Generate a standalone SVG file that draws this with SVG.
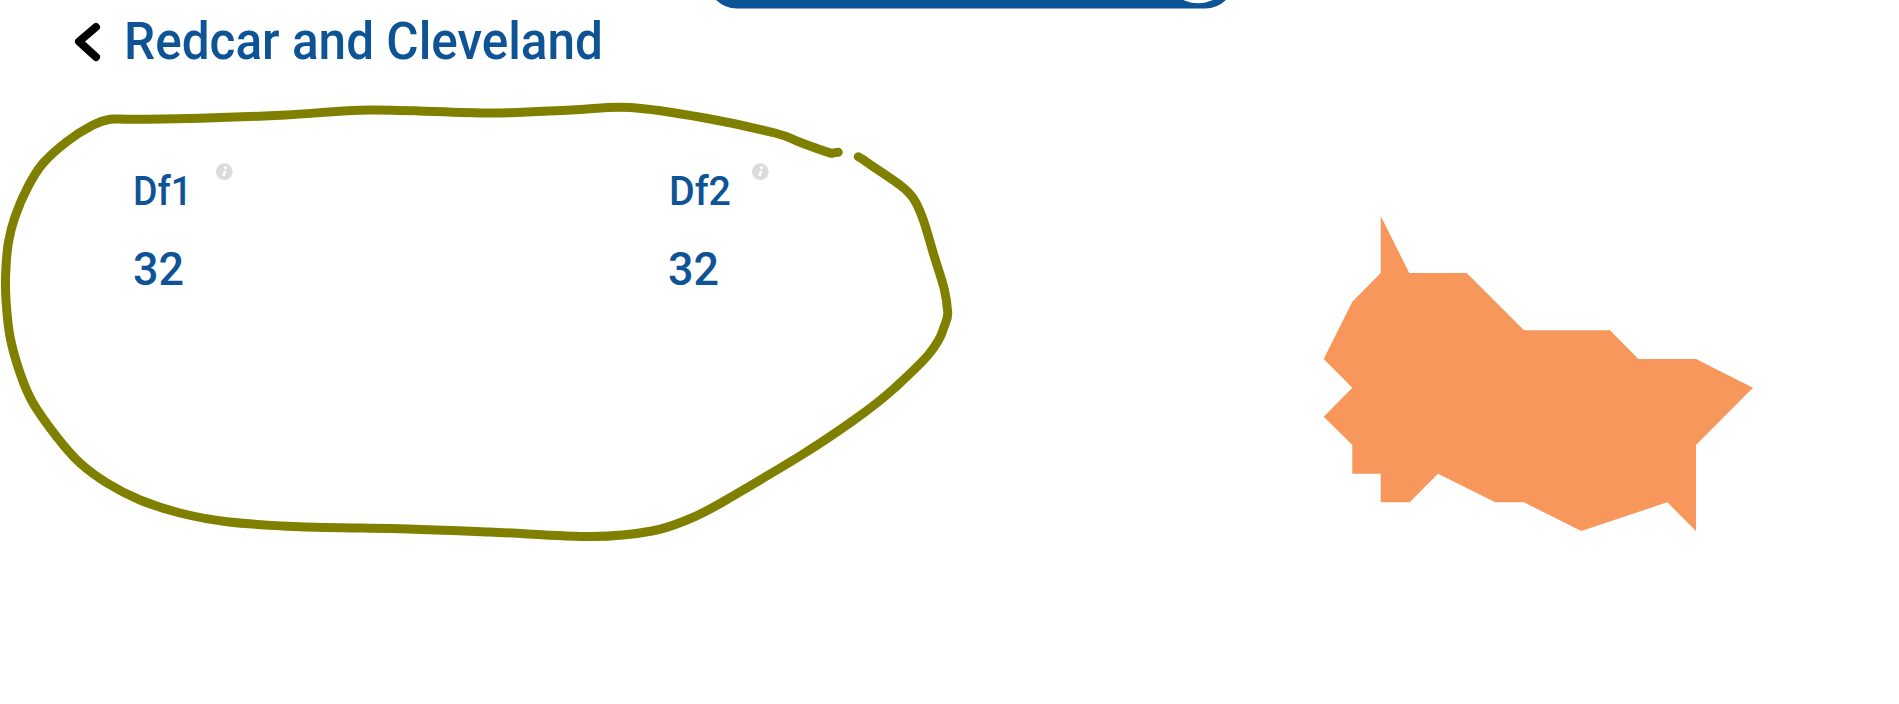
<svg xmlns="http://www.w3.org/2000/svg" width="1899" height="704" viewBox="0 0 1899 704">
<style>
text{font-family:Roboto,"Liberation Sans",sans-serif;fill:#0d5396;font-weight:500}
.title{font-size:51px}
.lab{font-size:41px}
.val{font-size:46px}
.line{fill:none;stroke:#808000;stroke-width:9;stroke-linecap:round;stroke-linejoin:round}
</style>
<defs>
<g id="info"><circle r="8.400" fill="#dcdcdc"/><circle cx="1" cy="-4" r="1.500" fill="#fff"/><path d="M.8 -1L-.9 4.500" stroke="#fff" stroke-width="2.600" fill="none"/></g>
</defs>
<rect width="1899" height="704" fill="#ffffff"/>
<rect x="707" y="-52" width="528" height="60.500" rx="30" fill="#0d5396"/>
<circle cx="1198" cy="-30.200" r="33.500" fill="#ffffff"/>
<path d="M96 27L79 41.500L96 57" fill="none" stroke="#000" stroke-width="8" stroke-linecap="round" stroke-linejoin="round"/>
<text class="title" x="124" y="59" textLength="479" lengthAdjust="spacingAndGlyphs">Redcar and Cleveland</text>
<g id="df1"><text class="lab" x="133" y="205" textLength="59" lengthAdjust="spacingAndGlyphs">Df1</text><text class="val" x="133" y="284.500" textLength="51" lengthAdjust="spacingAndGlyphs">32</text><use href="#info" x="224.300" y="171.700"/></g>
<g id="df2"><text class="lab" x="669" y="205" textLength="62" lengthAdjust="spacingAndGlyphs">Df2</text><text class="val" x="668" y="284.500" textLength="51" lengthAdjust="spacingAndGlyphs">32</text><use href="#info" x="760.300" y="171.700"/></g>
<g id="connectors">
<path class="line" d="M838.300 152.300Q835 152.500 831.700 153.300C826 152 809.400 145.700 800 142.300S790.800 137 775 133S729.200 122.300 705 118S652.300 108.800 630 107.500S594.300 109.100 571 110S523.300 113 490 113S405 109.700 371 110S314.500 113.600 286 115S225.500 117.600 200 118.300S148 119.100 133 119.300S116.700 118.300 110 119.300S100.200 121.300 93 125S75 135.300 66.700 141.700S49.500 155.800 43 163.300S32.700 177.800 28 186.700S18.300 207.300 15 216.700S9.900 233.600 8.300 243S6.100 263.500 5.700 273S5.300 289.400 6 300S7.700 324.500 10 336.700S16.200 362 20 373S26.900 392.400 33 403S48.900 426.700 56.700 436.700S71.600 455.300 80 463S97 476.800 107 483S127.800 495 140 500S165.500 509.400 180 513S207 519.400 227 521.700S269.800 525.500 300 526.700S376.300 528.100 408 529S459.300 530.800 490 532S565.300 536.600 592 536.500S636 534 652 531S675.200 524.500 688 519.500S709.200 510 727 499.500S779 469 800 456S838.500 431 854 420S881.700 399.800 894 388.500S920.900 364 929 354S940.400 338.700 943 330S948.200 320 947.700 312S946.500 298 944 288S936.600 264.400 933.300 253.300S926.600 229.200 923.300 220S917.200 204.100 913.300 198.300S907.500 190.800 900 185S875.300 168 868.300 163.300S862 158.500 858.300 156.700"/>
</g>
<polygon id="region" fill="#f8975b" points="1380.700,216 1409.300,273 1466.700,273 1524,330.300 1610,330.300 1638.300,359 1696,359 1753,387.700 1696,445 1696,531 1667.300,502.300 1581.300,531 1524,502.300 1495.300,502.300 1438,473.700 1409.700,502.300 1380.700,502.300 1380.700,473.700 1352.300,473.700 1352.300,445 1323.700,416.700 1352.300,387.700 1323.700,359 1352.300,301.700 1380.700,273"/>
</svg>
